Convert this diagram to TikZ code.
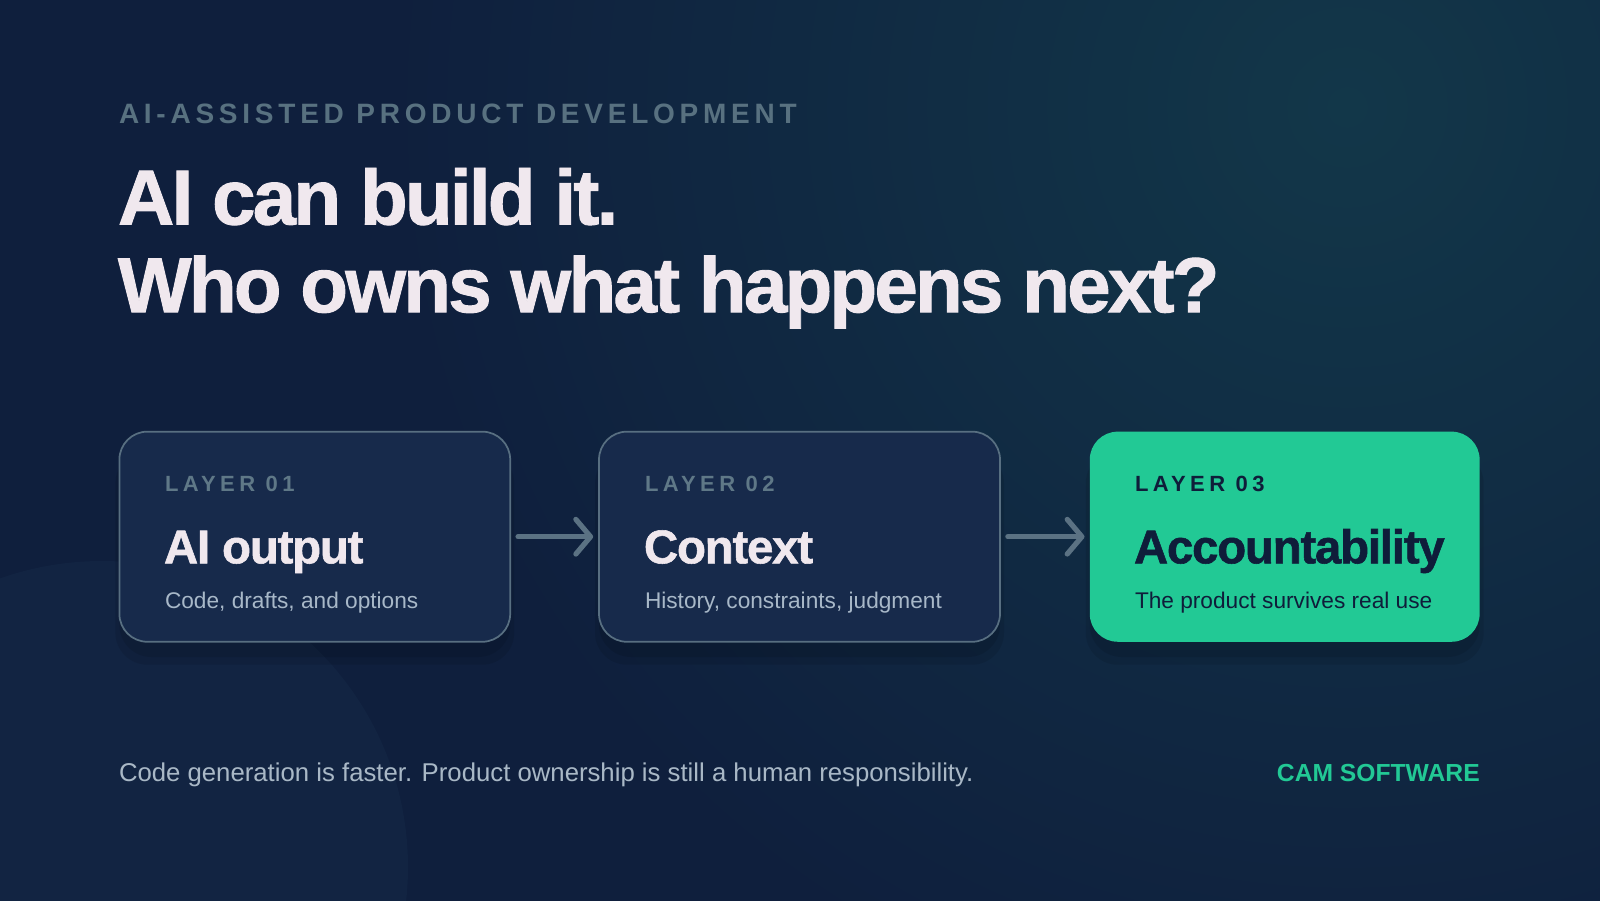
\documentclass[tikz,border=0pt]{standalone}
\usepackage{fontspec}
\setmainfont{Liberation Sans}
\newfontfamily\kickerfont[LetterSpace=17]{Liberation Sans}
\newfontfamily\layerfont[LetterSpace=20]{Liberation Sans}
\newfontfamily\titlefont[LetterSpace=-3.5,FakeBold=1.2]{Liberation Sans}
\newfontfamily\headfont[LetterSpace=-2.5,FakeBold=1.2]{Liberation Sans}
\usetikzlibrary{arrows.meta}
\definecolor{bg}{HTML}{0F1F3D}
\definecolor{glow}{HTML}{123749}
\definecolor{circ}{HTML}{122442}
\definecolor{boxfill}{HTML}{172A4B}
\definecolor{boxline}{HTML}{586F81}
\definecolor{kick}{HTML}{587180}
\definecolor{titlec}{HTML}{F0E8EE}
\definecolor{layerc}{HTML}{5F7887}
\definecolor{subc}{HTML}{A8B8C8}
\definecolor{greenc}{HTML}{22C995}
\definecolor{darkc}{HTML}{0F1D3A}
\definecolor{arrowc}{HTML}{5B7283}
\definecolor{footc}{HTML}{A9B8C6}
\tikzset{
  txt/.style={anchor=base west, inner sep=0pt, outer sep=0pt},
  card/.style={rectangle, rounded corners=21pt, minimum height=157.6pt, inner sep=0pt},
  darkcard/.style={card, fill=boxfill, draw=boxline, line width=1.3pt},
  greencard/.style={card, fill=greenc},
  cshadow/.style={rectangle, rounded corners=24pt, fill=black, opacity=0.09, inner sep=0pt},
  flow/.style={draw=arrowc, line width=3.9pt, line cap=round, line join=round,
    -{Straight Barb[length=11pt,width=26pt,round]}},
  layerlab/.style={txt, font=\layerfont\bfseries\fontsize{16.5}{20}\selectfont},
  cardtitle/.style={txt, font=\headfont\bfseries\fontsize{35.5}{40}\selectfont},
  cardsub/.style={txt, font=\fontsize{17}{20}\selectfont},
}
\begin{document}
\begin{tikzpicture}[x=0.75pt,y=-0.75pt]
\useasboundingbox (0,0) rectangle (1600,900);
% background
\fill[bg] (-20,-20) rectangle (1620,920);
\begin{scope}
\clip (-20,-20) rectangle (1620,920);
\shade[inner color=glow, outer color=bg] (1347,107) circle (720pt);
\fill[circ] (102,867) circle (229.5pt);
\end{scope}
% header
\node[txt, text=kick, font=\kickerfont\bfseries\fontsize{21}{24}\selectfont] (kicker) at (119,123.5) {AI-ASSISTED PRODUCT DEVELOPMENT};
\node[txt, text=titlec, font=\titlefont\bfseries\fontsize{58.5}{66}\selectfont] (title1) at (118,224.5) {AI can build it.};
\node[txt, text=titlec, font=\titlefont\bfseries\fontsize{58.5}{66}\selectfont] (title2) at (118,312.2) {Who owns what happens next?};
% shadows
\foreach \cx/\w in {314.8/293.1, 799.5/300.75, 1284.7/292.4}{
  \node[cshadow, minimum width=\w pt+6pt, minimum height=160pt] at (\cx,558) {};
  \node[cshadow, minimum width=\w pt, minimum height=156pt] at (\cx,553) {};
}
% cards
\node[darkcard, minimum width=293.1pt] (c1) at (314.8,536.7) {};
\node[darkcard, minimum width=300.75pt] (c2) at (799.5,536.7) {};
\node[greencard, minimum width=292.4pt] (c3) at (1284.7,536.7) {};
% card texts
\node[layerlab, text=layerc] (l1) at (165,491.8) {LAYER 01};
\node[cardtitle, text=titlec] (t1) at (164,563.3) {AI output};
\node[cardsub, text=subc] (s1) at (165,608.2) {Code, drafts, and options};
\node[layerlab, text=layerc] (l2) at (645,491.8) {LAYER 02};
\node[cardtitle, text=titlec] (t2) at (644,563.3) {Context};
\node[cardsub, text=subc] (s2) at (645,608.2) {History, constraints, judgment};
\node[layerlab, text=darkc] (l3) at (1135,491.8) {LAYER 03};
\node[cardtitle, text=darkc] (t3) at (1134,563.3) {Accountability};
\node[cardsub, text=darkc] (s3) at (1135,608.2) {The product survives real use};
% arrows
\draw[flow, shorten <=5.25pt, shorten >=3.75pt] (c1.east) -- (c2.west);
\draw[flow, shorten <=5.25pt, shorten >=3.75pt] (c2.east) -- (c3.west);
% footer
\node[txt, text=footc, font=\fontsize{19.3}{24}\selectfont] (foot) at (119,781.6) {Code generation is faster. Product ownership is still a human responsibility.};
\node[anchor=base east, inner sep=0pt, text=greenc, font=\bfseries\fontsize{18.5}{24}\selectfont] (brand) at (1480,781.6) {CAM SOFTWARE};
\end{tikzpicture}
\end{document}
